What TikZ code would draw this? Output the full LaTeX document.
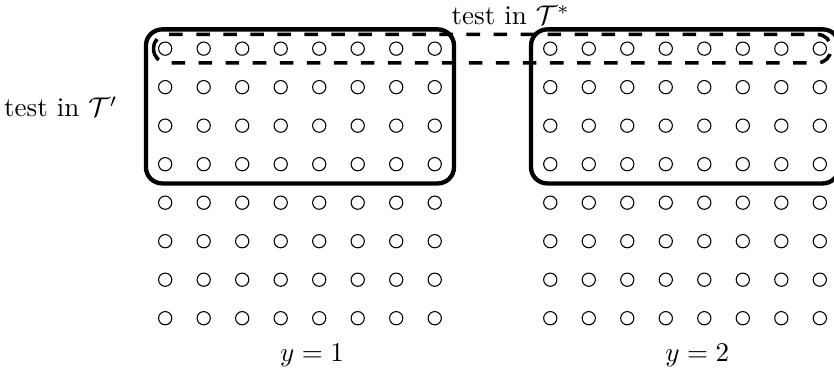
\documentclass[tikz,border=0pt]{standalone}

\tikzset{every picture/.style={line width=0.75pt}}
\tikzset{dot/.style={circle,draw,line width=0.4pt,inner sep=0pt,minimum size=4.9pt}}

\begin{document}
\begin{tikzpicture}[x=0.75pt,y=0.75pt,yscale=-1,xscale=1]
\useasboundingbox (0,0) rectangle (411.5,185);

%Shape: Circles [y=1 and y=2 grids]
\foreach \i in {0,...,7}
  \foreach \j in {0,...,7}
  {
    \node [dot] (ca-\i-\j) at ({81.5+19*\i},{24+19*\j}) {};
    \node [dot] (cb-\i-\j) at ({271.5+19*\i},{24+19*\j}) {};
  }

%Shape: Rounded Rect [id:left]
\draw [line width=1.6pt, rounded corners=6pt]  (72,14.5) rectangle (224,90.5) ;
%Shape: Rounded Rect [id:right]
\draw [line width=1.6pt, rounded corners=6pt]  (262,14.5) rectangle (414,90.5) ;
%Shape: Rounded Rect [id:dashed]
\draw [line width=1.3pt, rounded corners=5pt]  [dash pattern={on 5pt off 5pt}]  (75.8,17) rectangle (410,31) ;

% Text Node
\draw (252,12.2) node [anchor=base][inner sep=0pt] (tstar) {test in $\mathcal{T}^*$};
% Text Node
\draw (30,57.7) node [anchor=base][inner sep=0.75pt] (tprime) {test in $\mathcal{T}'$};
% Text Node
\draw (154,178.5) node [anchor=base][inner sep=0.75pt] (yone) {$y=1$};
% Text Node
\draw (344,178.5) node [anchor=base][inner sep=0.75pt] (ytwo) {$y=2$};

\end{tikzpicture}
\end{document}
